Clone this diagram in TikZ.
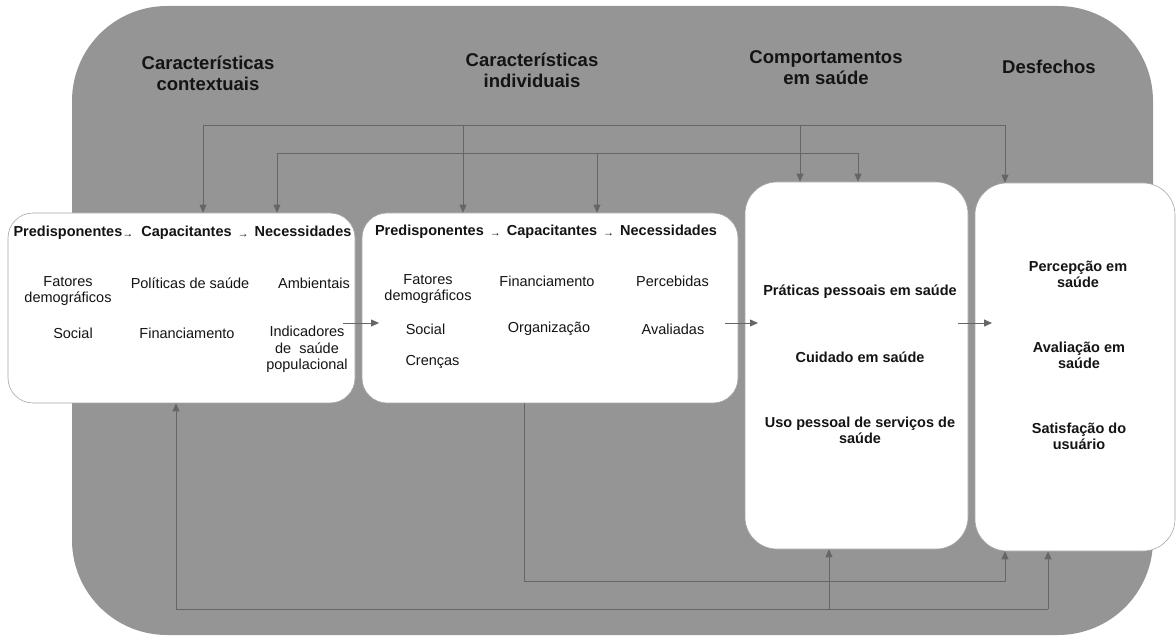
\documentclass[tikz,border=0pt]{standalone}
\usepackage{fontspec}
\setmainfont{Liberation Sans}
\usetikzlibrary{arrows.meta}
\definecolor{bggray}{HTML}{959595}
\definecolor{lncol}{HTML}{666666}
\definecolor{txt}{HTML}{141414}
\newcommand\sar{\hbox to 15pt{\hss{\fontsize{11}{11}\selectfont\raisebox{-0.5pt}{→}}\hss}}
\newcommand\sal{\hbox to 15pt{{\fontsize{11}{11}\selectfont\raisebox{-0.5pt}{→}}\hss}}
\begin{document}
\begin{tikzpicture}[x=1pt,y=-1pt,
  box/.style={draw=black!35, line width=0.6pt, fill=white, inner sep=0pt},
  ttl/.style={font=\fontsize{18.5}{21}\selectfont\bfseries, align=center, text=txt, inner sep=0pt},
  hdr/.style={font=\fontsize{14.5}{16.5}\selectfont\bfseries, text=txt, inner sep=0pt},
  itm/.style={font=\fontsize{14.5}{16.5}\selectfont, align=center, text=txt, inner sep=0pt},
  bitm/.style={font=\fontsize{14.5}{16}\selectfont\bfseries, align=center, text=txt, inner sep=0pt},
  conn/.style={draw=lncol, line width=0.8pt},
  arr/.style={conn, -{Triangle[length=8pt,width=7pt]}},
]
\useasboundingbox (0,0) rectangle (1176,636);
% background container
\fill[bggray, rounded corners=95pt] (72,6) rectangle (1153,635);

% titles
\node[ttl] (t1) at (208,73) {Características\\contextuais};
\node[ttl] (t2) at (532,70.5) {Características\\individuais};
\node[ttl] (t3) at (826,67.5) {Comportamentos\\em saúde};
\node[ttl] (t4) at (1049,67) {Desfechos};

% boxes
\node[box, rounded corners=25pt, minimum width=347pt, minimum height=190pt] (b1) at (181.5,308) {};
\node[box, rounded corners=25pt, minimum width=376pt, minimum height=190pt] (b2) at (550,308) {};
\node[box, rounded corners=32pt, minimum width=223pt, minimum height=367pt] (b3) at (856.5,365.5) {};
\node[box, rounded corners=32pt, minimum width=200pt, minimum height=368pt] (b4) at (1075,367) {};

% top connectors
\coordinate (a1) at (203,125);
\coordinate (a2) at (463,125);
\coordinate (a3) at (800,125);
\coordinate (a4) at (1005,125);
\coordinate (c1) at (277,153);
\coordinate (c2) at (597,153);
\coordinate (c3) at (858,153);
\draw[conn] (a1) -- (a4);
\draw[conn] (c1) -- (c3);
\draw[arr] (a1) -- (a1 |- b1.north);
\draw[arr] (a2) -- (a2 |- b2.north);
\draw[arr] (a3) -- (a3 |- b3.north);
\draw[arr] (a4) -- (a4 |- b4.north);
\draw[arr] (c1) -- (c1 |- b1.north);
\draw[arr] (c2) -- (c2 |- b2.north);
\draw[arr] (c3) -- (c3 |- b3.north);

% middle arrows
\coordinate (m1a) at (343,323);
\coordinate (m1b) at (379,323);
\coordinate (m2a) at (725,323);
\coordinate (m2b) at (758,323);
\coordinate (m3a) at (958,323);
\coordinate (m3b) at (992,323);
\draw[arr] (m1a) -- (m1b);
\draw[arr] (m2a) -- (m2b);
\draw[arr] (m3a) -- (m3b);

% bottom connectors
\coordinate (d1) at (176,609);
\coordinate (d2) at (829,609);
\coordinate (d3) at (1048,609);
\draw[conn] (d1) -- (d3);
\draw[arr] (d1) -- (d1 |- b1.south);
\draw[arr] (d2) -- (d2 |- b3.south);
\draw[arr] (d3) -- (d3 |- b4.south);
\coordinate (e1) at (524,581);
\coordinate (e2) at (1005,581);
\draw[arr] (e1 |- b2.south) -- (e1) -- (e2) -- (e2 |- b4.south);

% box 1 content
\node[hdr] (h1) at (182.5,233) {Predisponentes\sal{} Capacitantes \sar{} Necessidades};
\node[itm] (f1) at (68,291) {Fatores\\demográficos};
\node[itm] (s1) at (73,333) {Social};
\node[itm] (p1) at (190,283) {Políticas de saúde};
\node[itm] (fi1) at (187,333) {Financiamento};
\node[itm] (am1) at (314,283) {Ambientais};
\node[itm] (in1) at (307,349.5) {Indicadores\\de \ saúde\\populacional};

% box 2 content
\node[hdr] (h2) at (546,232) {Predisponentes \sar{} Capacitantes \sar{} Necessidades};
\node[itm] (f2) at (428,289) {Fatores\\demográficos};
\node[itm] (s2) at (425.5,329) {Social};
\node[itm] (c2t) at (432.5,362) {Crenças};
\node[itm] (fi2) at (547,281) {Financiamento};
\node[itm] (o2) at (549,329) {Organização};
\node[itm] (pe2) at (672.5,281) {Percebidas};
\node[itm] (av2) at (673,329) {Avaliadas};

% box 3 content
\node[bitm] (pr3) at (860,292) {Práticas pessoais em saúde};
\node[bitm] (cu3) at (860,357) {Cuidado em saúde};
\node[bitm] (us3) at (860,430) {Uso pessoal de serviços de\\saúde};

% box 4 content
\node[bitm] (pc4) at (1078,274.5) {Percepção em\\saúde};
\node[bitm] (av4) at (1079,355) {Avaliação em\\saúde};
\node[bitm] (sa4) at (1079,436.5) {Satisfação do\\usuário};
\end{tikzpicture}
\end{document}
